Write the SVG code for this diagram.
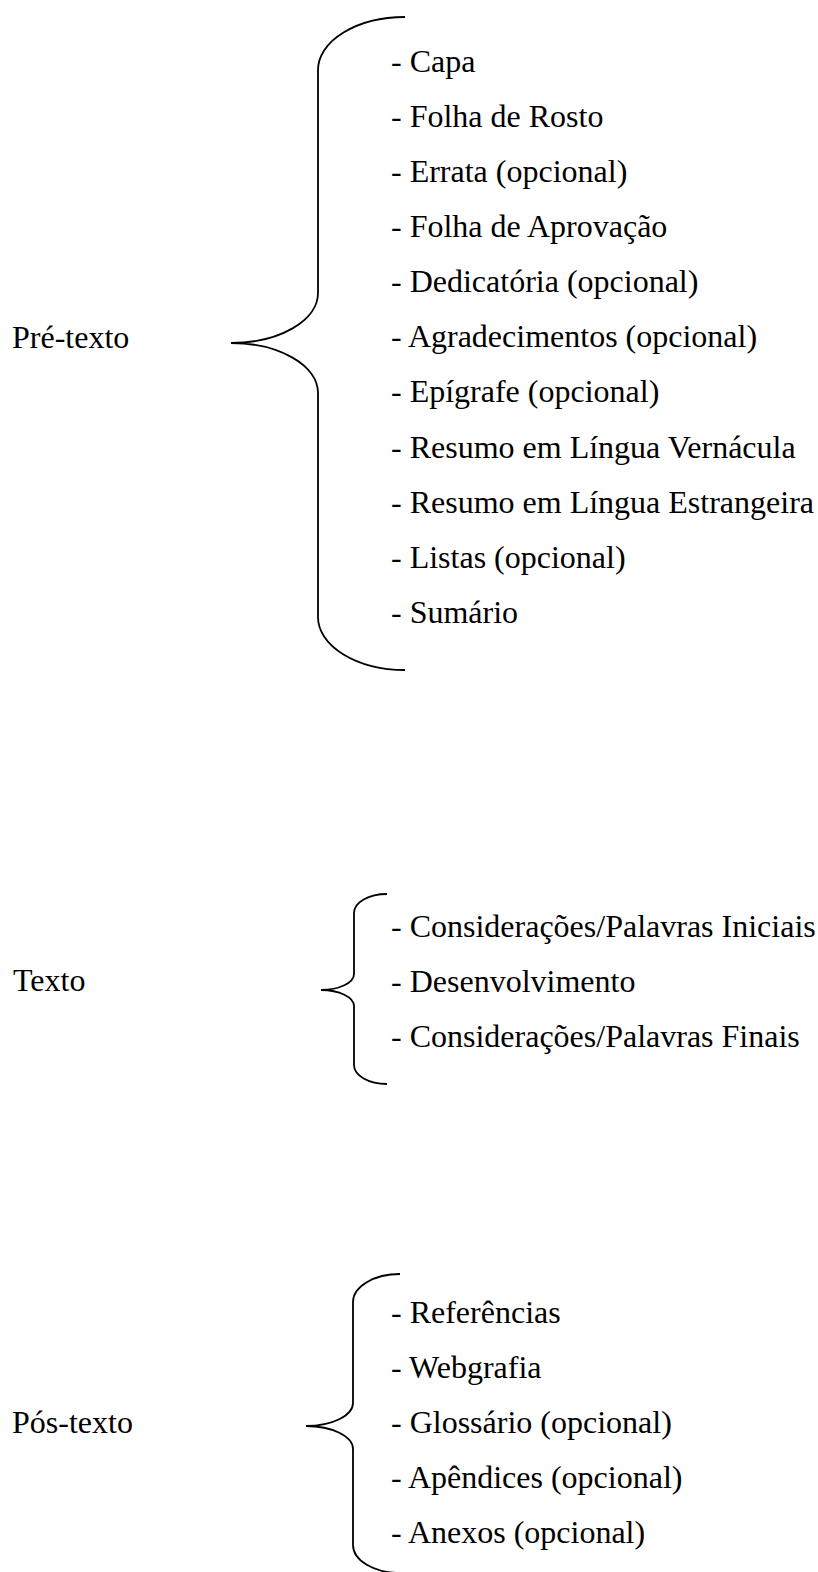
<svg xmlns="http://www.w3.org/2000/svg" width="818" height="1572" viewBox="0 0 818 1572">
<style>
text{font-family:"Liberation Serif","Times New Roman",serif;font-size:32px;fill:#000}
.brace{fill:none;stroke:#000;stroke-width:1.8}
</style>
<rect width="818" height="1572" fill="#fff"/>
<g id="connectors">
<path class="brace" d="M405,17 A87,53 0 0 0 318,70 L318,293 A87,50 0 0 1 231,343 A87,50 0 0 1 318,393 L318,617 A87,53 0 0 0 405,670"/>
<path class="brace" d="M387,894 A33,19 0 0 0 354,913 L354,974 A33,16 0 0 1 321,990 A33,16 0 0 1 354,1006 L354,1065 A33,19 0 0 0 387,1084"/>
<path class="brace" d="M400,1274 A47,28 0 0 0 353,1302 L353,1403 A47,23 0 0 1 306,1426 A47,23 0 0 1 353,1449 L353,1545 A47,28 0 0 0 400,1573"/>
</g>
<g id="pre-texto"><text x="12" y="348">Pré-texto</text></g>
<g id="pre-texto-itens">
<text x="391" y="72">- Capa</text>
<text x="391" y="127">- Folha de Rosto</text>
<text x="391" y="182">- Errata (opcional)</text>
<text x="391" y="237">- Folha de Aprovação</text>
<text x="391" y="292">- Dedicatória (opcional)</text>
<text x="391" y="347">- Agradecimentos (opcional)</text>
<text x="391" y="402">- Epígrafe (opcional)</text>
<text x="391" y="458">- Resumo em Língua Vernácula</text>
<text x="391" y="513">- Resumo em Língua Estrangeira</text>
<text x="391" y="568">- Listas (opcional)</text>
<text x="391" y="623">- Sumário</text>
</g>
<g id="texto"><text x="13" y="991">Texto</text></g>
<g id="texto-itens">
<text x="391" y="937">- Considerações/Palavras Iniciais</text>
<text x="391" y="992">- Desenvolvimento</text>
<text x="391" y="1047">- Considerações/Palavras Finais</text>
</g>
<g id="pos-texto"><text x="12" y="1433">Pós-texto</text></g>
<g id="pos-texto-itens">
<text x="391" y="1323">- Referências</text>
<text x="391" y="1378">- Webgrafia</text>
<text x="391" y="1433">- Glossário (opcional)</text>
<text x="391" y="1488">- Apêndices (opcional)</text>
<text x="391" y="1543">- Anexos (opcional)</text>
</g>
</svg>
